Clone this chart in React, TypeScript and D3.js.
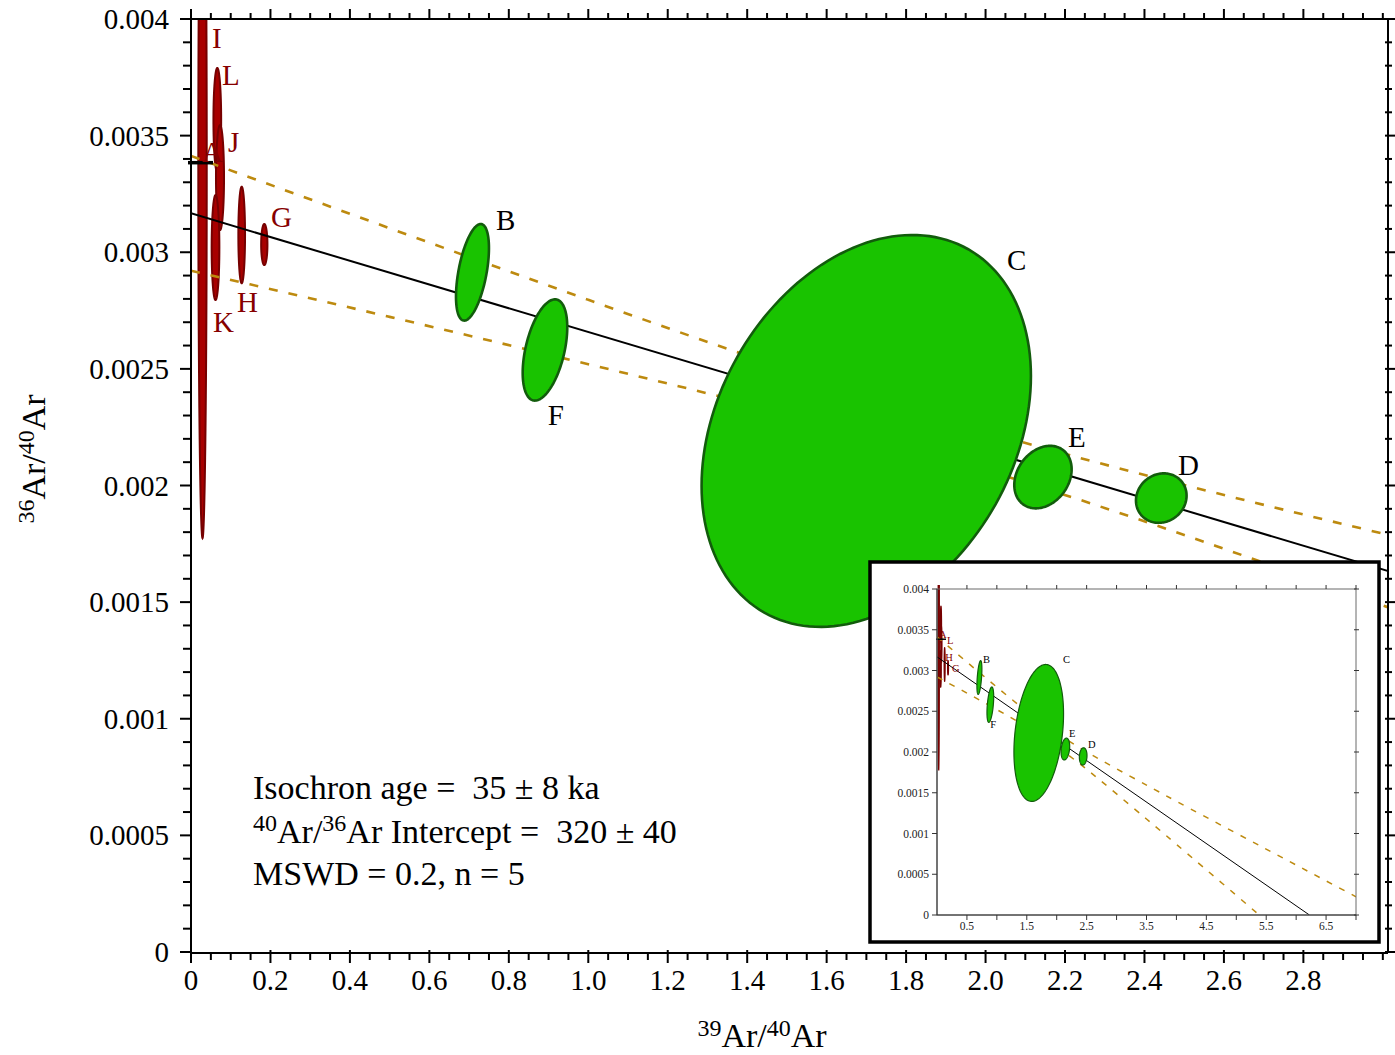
import React from "react";
import * as d3 from "d3";

// ---- data ----
// green (accepted) steps: centre, half extent in x / y, correlation
const greenNames = ["B", "F", "C", "E", "D"];
const greenX = [0.7085, 0.891, 1.6997, 2.1445, 2.4423];
const greenY = [0.002914, 0.002581, 0.002234, 0.002036, 0.001946];
const greenSx = [0.0415, 0.0561, 0.4145, 0.0722, 0.0637];
const greenSy = [0.000207, 0.000217, 0.00084, 0.000134, 0.000106];
const greenRho = [0.5, 0.45, 0.28, 0.25, 0.1];

// red (rejected) steps
const redNames = ["I", "L", "J", "K", "H", "G"];
const redX = [0.029, 0.0662, 0.073, 0.0617, 0.1276, 0.1845];
const redY = [0.003374, 0.003567, 0.00332, 0.00302, 0.003074, 0.003033];
const redSx = [0.0106, 0.0097, 0.0101, 0.0097, 0.0084, 0.0079];
const redSy = [0.0016, 0.000223, 0.000225, 0.000225, 0.000207, 0.000088];

// isochron and its error envelope
const isoX = [0, 6.222];
const isoY = [0.003167, 0];
const envX = [0, 0.5, 1, 1.5, 2, 2.5, 3, 3.5, 4, 5, 6, 7];
const envUpper = [0.003413, 0.003103, 0.002796, 0.002499, 0.002231, 0.002002, 0.001794, 0.001594, 0.001395, 0.001003, 0.000613, 0.000224];
const envLower = [0.002921, 0.002723, 0.00252, 0.002308, 0.002067, 0.001788, 0.001486, 0.001178, 0.000867, 0.000241, -0.000387, -0.001016];
const atmRatio = 0.003384;

// tick labels
const xTickValues = [0, 0.2, 0.4, 0.6, 0.8, 1.0, 1.2, 1.4, 1.6, 1.8, 2.0, 2.2, 2.4, 2.6, 2.8];
const xTickLabels = ["0", "0.2", "0.4", "0.6", "0.8", "1.0", "1.2", "1.4", "1.6", "1.8", "2.0", "2.2", "2.4", "2.6", "2.8"];
const yTickValues = [0, 0.0005, 0.001, 0.0015, 0.002, 0.0025, 0.003, 0.0035, 0.004];
const yTickLabels = ["0", "0.0005", "0.001", "0.0015", "0.002", "0.0025", "0.003", "0.0035", "0.004"];
const insetXTickValues = [0.5, 1.5, 2.5, 3.5, 4.5, 5.5, 6.5];
const insetXTickLabels = ["0.5", "1.5", "2.5", "3.5", "4.5", "5.5", "6.5"];

const NB = "\u00a0";
const statLines = [
  `Isochron age =${NB} 35 \u00b1 8 ka`,
  `Intercept =${NB} 320 \u00b1 40`,
  "MSWD = 0.2, n = 5",
];

// ---- layout ----
const SERIF = "'Liberation Serif', 'Times New Roman', Times, serif";
const GREEN = "#19c300";
const GREEN_EDGE = "#125c0c";
const RED = "#a80000";
const RED_EDGE = "#760000";
const RED_TEXT = "#860000";
const GOLD = "#bd8a0f";

// label offsets in pixels from the scaled ellipse centre
const mainLabelOff: Record<string, [number, number]> = {
  I: [9.5, -117], L: [4.7, -35], J: [8, -25.5], K: [-2.5, 84.5], H: [-4.7, 77], G: [6.8, -17.5],
  B: [23.5, -42], F: [2.7, 75], C: [140.7, -161], E: [25, -30], D: [16.7, -23],
};
const insetLabelOff: Record<string, [number, number]> = {
  L: [6, 19.7], H: [0.5, -3], G: [4, 4],
  B: [3.6, -14.5], F: [0, 23.4], C: [24.3, -70], E: [3.6, -12], D: [4.8, -8.4],
};

function ellipsePath(cx: number, cy: number, sx: number, sy: number, rho: number, xs: any, ys: any) {
  const k = Math.sqrt(1 - rho * rho);
  const pts: [number, number][] = d3.range(0, 160).map((i) => {
    const t = (i / 160) * 2 * Math.PI;
    return [xs(cx + sx * Math.cos(t)), ys(cy + sy * (rho * Math.cos(t) + k * Math.sin(t)))];
  });
  return d3.line().curve(d3.curveLinearClosed)(pts) as string;
}

function Plot({ xs, ys, inset }: { xs: any; ys: any; inset: boolean }) {
  const env = (vals: number[]) =>
    d3
      .line<number>()
      .x((_, i) => xs(envX[i]))
      .y((d) => ys(d))
      .curve(d3.curveNatural)(vals) as string;
  const iso = d3
    .line<number>()
    .x((_, i) => xs(isoX[i]))
    .y((d) => ys(d))(isoY) as string;
  const clipId = inset ? "clip-inset" : "clip-main";
  const [x0, x1] = xs.range();
  const [y0, y1] = ys.range();
  const offs = inset ? insetLabelOff : mainLabelOff;
  const fs = inset ? 10.5 : 29;
  return (
    <g>
      <defs>
        <clipPath id={clipId}>
          <rect x={x0} y={y1 - (inset ? 4 : 0)} width={x1 - x0} height={y0 - y1 + (inset ? 4 : 0)} />
        </clipPath>
      </defs>
      <g clipPath={`url(#${clipId})`}>
        {redNames.map((n, i) => (
          <path
            key={n}
            d={ellipsePath(redX[i], redY[i], redSx[i], redSy[i], 0, xs, ys)}
            fill={RED}
            stroke={RED_EDGE}
            strokeWidth={inset ? 1.2 : 2}
          />
        ))}
        <path d={env(envUpper)} fill="none" stroke={GOLD} strokeWidth={inset ? 1.5 : 2.6} strokeDasharray={inset ? "6,8" : "9,11"} />
        <path d={env(envLower)} fill="none" stroke={GOLD} strokeWidth={inset ? 1.5 : 2.6} strokeDasharray={inset ? "6,8" : "9,11"} />
        <path d={iso} fill="none" stroke="#000" strokeWidth={inset ? 1 : 2} />
        {greenNames.map((n, i) => (
          <path
            key={n}
            d={ellipsePath(greenX[i], greenY[i], greenSx[i], greenSy[i], greenRho[i], xs, ys)}
            fill={GREEN}
            stroke={GREEN_EDGE}
            strokeWidth={inset ? 1.2 : 2.6}
          />
        ))}
      </g>
      <line
        x1={xs(0) - (inset ? 1 : 3)}
        x2={xs(0) + (inset ? 9 : 22)}
        y1={ys(atmRatio)}
        y2={ys(atmRatio)}
        stroke="#000"
        strokeWidth={inset ? 1.5 : 3.5}
      />
      <g fontFamily={SERIF} fontSize={fs}>
        <text x={xs(0) + (inset ? 2 : 11)} y={ys(atmRatio) + (inset ? -1 : -1)} fill={RED_TEXT}>
          A
        </text>
        {redNames.map((n, i) =>
          offs[n] ? (
            <text key={n} x={xs(redX[i]) + offs[n][0]} y={ys(redY[i]) + offs[n][1]} fill={RED_TEXT}>
              {n}
            </text>
          ) : null
        )}
        {greenNames.map((n, i) => (
          <text key={n} x={xs(greenX[i]) + offs[n][0]} y={ys(greenY[i]) + offs[n][1]} fill="#000">
            {n}
          </text>
        ))}
      </g>
    </g>
  );
}

function MainAxes({ xs, ys }: { xs: any; ys: any }) {
  const [x0, x1] = xs.range();
  const [y0, y1] = ys.range();
  const isMajor = (vals: number[], v: number, eps: number) => vals.some((t) => Math.abs(t - v) < eps);
  const xt: number[] = xs.ticks(60);
  const yt: number[] = ys.ticks(40);
  return (
    <g stroke="#000" strokeWidth={2}>
      <line x1={x0} x2={x1} y1={y0 + 1} y2={y0 + 1} />
      <line x1={x0} x2={x1} y1={y1} y2={y1} />
      <line x1={x0} x2={x0} y1={y1} y2={y0 + 1} />
      <line x1={x1} x2={x1} y1={y1} y2={y0 + 1} />
      {xt.map((v) => {
        const m = isMajor(xTickValues, v, 1e-6);
        const px = xs(v);
        return (
          <g key={"x" + v}>
            <line x1={px} x2={px} y1={y0 + (m ? -2 : 1)} y2={y0 + (m ? 11 : 8)} />
            <line x1={px} x2={px} y1={y1} y2={y1 - (m ? 10 : 6)} />
          </g>
        );
      })}
      {yt.map((v) => {
        const m = isMajor(yTickValues, v, 1e-9);
        const py = ys(v);
        return (
          <g key={"y" + v}>
            <line x1={x0} x2={x0 - (m ? 11 : 8)} y1={py} y2={py} />
            <line x1={x1 - 3} x2={x1 + (m ? 7 : 4)} y1={py} y2={py} />
          </g>
        );
      })}
      <g stroke="none" fill="#000" fontFamily={SERIF} fontSize={29}>
        {xTickValues.map((v, i) => (
          <text key={v} x={xs(v)} y={990} textAnchor="middle">
            {xTickLabels[i]}
          </text>
        ))}
        {yTickValues.map((v, i) => (
          <text key={v} x={169} y={ys(v) + 10} textAnchor="end">
            {yTickLabels[i]}
          </text>
        ))}
      </g>
    </g>
  );
}

function InsetAxes({ xs, ys }: { xs: any; ys: any }) {
  const [x0, x1] = xs.range();
  const [y0, y1] = ys.range();
  const xt = d3.range(1, 15).map((i) => i * 0.5);
  return (
    <g stroke="#6a6a6a" strokeWidth={1}>
      <rect x={x0} y={y1} width={x1 - x0} height={y0 - y1} fill="none" />
      <line x1={x0} x2={x0} y1={y1} y2={y0} stroke="#333" />
      <line x1={x0} x2={x1} y1={y0} y2={y0} stroke="#333" />
      {xt.map((v) => (
        <g key={"ix" + v}>
          <line x1={xs(v)} x2={xs(v)} y1={y0} y2={y0 + 5} stroke="#333" />
          <line x1={xs(v)} x2={xs(v)} y1={y1} y2={y1 - 4} stroke="#333" />
        </g>
      ))}
      {yTickValues.map((v) => (
        <g key={"iy" + v}>
          <line x1={x0} x2={x0 - 5} y1={ys(v)} y2={ys(v)} stroke="#333" />
          <line x1={x1 - 2} x2={x1 + 3} y1={ys(v)} y2={ys(v)} stroke="#333" />
        </g>
      ))}
      <g stroke="none" fill="#222" fontFamily={SERIF} fontSize={11.5}>
        {insetXTickValues.map((v, i) => (
          <text key={v} x={xs(v)} y={930} textAnchor="middle">
            {insetXTickLabels[i]}
          </text>
        ))}
        {yTickValues.map((v, i) => (
          <text key={v} x={x0 - 8} y={ys(v) + 4} textAnchor="end">
            {yTickLabels[i]}
          </text>
        ))}
      </g>
    </g>
  );
}

export default function App() {
  const x = d3.scaleLinear().domain([0, 3.013]).range([191, 1388]);
  const y = d3.scaleLinear().domain([0, 0.004]).range([952, 19]);
  const xi = d3.scaleLinear().domain([0, 7]).range([937, 1356]);
  const yi = d3.scaleLinear().domain([0, 0.004]).range([915, 589]);

  return (
    <svg
      width={1395}
      height={1055}
      style={{ position: "absolute", left: 0, top: 0, background: "#fff" }}
      fontFamily={SERIF}
    >
      <rect width={1395} height={1055} fill="#fff" />
      <Plot xs={x} ys={y} inset={false} />
      <MainAxes xs={x} ys={y} />

      {/* inset with the full extrapolation of the isochron */}
      <rect x={870} y={562} width={509} height={380} fill="#fff" stroke="#000" strokeWidth={3.5} />
      <Plot xs={xi} ys={yi} inset={true} />
      <InsetAxes xs={xi} ys={yi} />

      {/* statistics */}
      <g fontSize={34} fill="#000">
        <text x={253} y={799}>{statLines[0]}</text>
        <text x={253} y={843}>
          <tspan fontSize={24} dy={-12}>40</tspan>
          <tspan dy={12}>Ar/</tspan>
          <tspan fontSize={24} dy={-12}>36</tspan>
          <tspan dy={12}>{"Ar " + statLines[1]}</tspan>
        </text>
        <text x={253} y={885}>{statLines[2]}</text>
      </g>

      {/* axis titles */}
      <text x={762} y={1047} fontSize={34} textAnchor="middle">
        <tspan fontSize={24} dy={-11}>39</tspan>
        <tspan dy={11}>Ar/</tspan>
        <tspan fontSize={24} dy={-11}>40</tspan>
        <tspan dy={11}>Ar</tspan>
      </text>
      <text transform="translate(45,459) rotate(-90)" fontSize={34} textAnchor="middle">
        <tspan fontSize={24} dy={-11}>36</tspan>
        <tspan dy={11}>Ar/</tspan>
        <tspan fontSize={24} dy={-11}>40</tspan>
        <tspan dy={11}>Ar</tspan>
      </text>
    </svg>
  );
}
